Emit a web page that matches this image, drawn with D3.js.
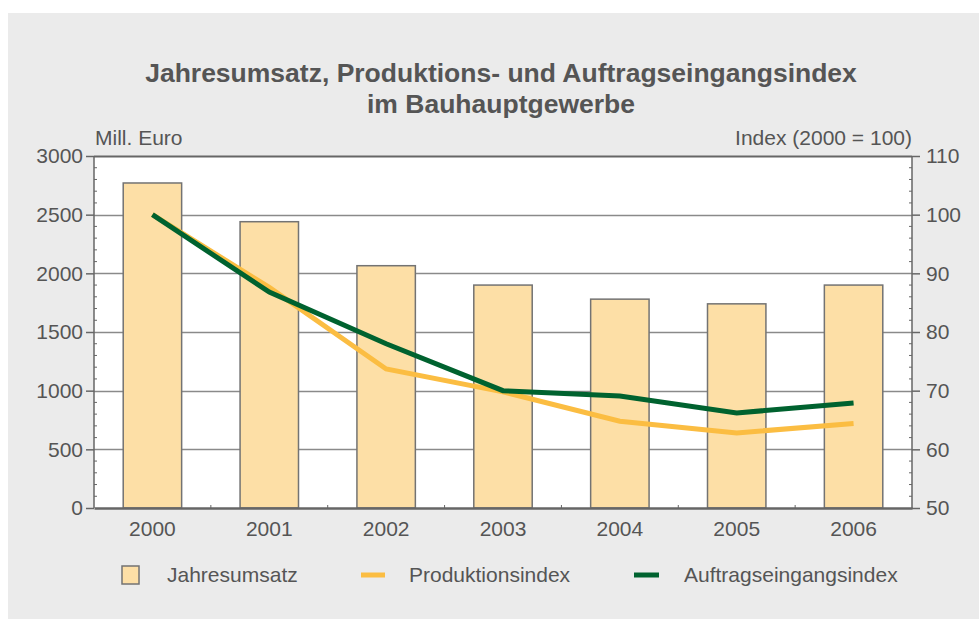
<!DOCTYPE html>
<html>

<head>
    <meta charset='utf-8'>
    <title>Bauhauptgewerbe</title>
    <script type='text/javascript' src='https://cdn.jsdelivr.net/npm/d3@7'></script>
    <style>
        body { margin: 0; background: #fff; }
        text { font-family: 'Liberation Sans', Arial, sans-serif; fill: #555; }
    </style>
</head>

<body>
    <svg width='979' height='619'></svg>
    <script type='text/javascript'>

        const years = ['2000', '2001', '2002', '2003', '2004', '2005', '2006']
        const umsatz = [2770, 2440, 2065, 1900, 1780, 1740, 1900]           // Mill. Euro
        const produktion = [100, 87.6, 73.7, 69.8, 64.8, 62.8, 64.4]         // Index
        const auftrag = [100, 86.8, 78.0, 70.0, 69.1, 66.2, 67.9]            // Index
        const leftTicks = [0, 500, 1000, 1500, 2000, 2500, 3000]
        const rightTicks = [50, 60, 70, 80, 90, 100, 110]

        const svg = d3.select('svg')

        // grauer Hintergrund
        svg.append('rect')
            .attr('x', 8).attr('y', 13)
            .attr('width', 979 - 8).attr('height', 619 - 13)
            .attr('fill', '#ebebeb')

        const pLeft = 94, pRight = 912, pTop = 156, pBottom = 508
        const fs = '21px'

        const x = d3.scaleBand().domain(years).range([pLeft, pRight]).paddingInner(0.5).paddingOuter(0.25)
        const yL = d3.scaleLinear().domain([0, 3000]).range([pBottom, pTop])
        const yR = d3.scaleLinear().domain([50, 110]).range([pBottom, pTop])

        // Titel
        svg.append('text')
            .attr('x', 501).attr('y', 82)
            .attr('text-anchor', 'middle')
            .style('font-size', '26.5px').style('font-weight', 'bold')
            .text('Jahresumsatz, Produktions- und Auftragseingangsindex')
        svg.append('text')
            .attr('x', 501).attr('y', 113)
            .attr('text-anchor', 'middle')
            .style('font-size', '26.5px').style('font-weight', 'bold')
            .text('im Bauhauptgewerbe')

        // Plotfläche
        svg.append('rect')
            .attr('x', pLeft).attr('y', pTop)
            .attr('width', pRight - pLeft).attr('height', pBottom - pTop)
            .attr('fill', '#fff')

        // Gitterlinien
        svg.append('g').selectAll('line')
            .data(leftTicks.slice(1))
            .enter().append('line')
            .attr('x1', pLeft).attr('x2', pRight)
            .attr('y1', d => Math.round(yL(d)) + 0.5).attr('y2', d => Math.round(yL(d)) + 0.5)
            .attr('stroke', d => d === 3000 ? '#666' : '#8a8a8a')
            .attr('stroke-width', d => d === 3000 ? 2 : 1.5)

        // Balken
        svg.append('g').selectAll('rect')
            .data(umsatz)
            .enter().append('rect')
            .attr('x', (d, i) => x(years[i]))
            .attr('y', d => yL(d))
            .attr('width', x.bandwidth())
            .attr('height', d => pBottom - yL(d))
            .attr('fill', '#fddfa6')
            .attr('stroke', '#737373')
            .attr('stroke-width', 1.5)

        // Linien
        const line = d3.line()
            .x((d, i) => x(years[i]) + x.bandwidth() / 2)
            .y(d => yR(d))

        svg.append('path')
            .datum(produktion)
            .attr('d', line)
            .attr('fill', 'none')
            .attr('stroke', '#fbbd42')
            .attr('stroke-width', 5)

        svg.append('path')
            .datum(auftrag)
            .attr('d', line)
            .attr('fill', 'none')
            .attr('stroke', '#00622f')
            .attr('stroke-width', 5)

        // Achsen
        const axisL = svg.append('g')
            .attr('transform', `translate(${pLeft},0)`)
            .call(d3.axisLeft(yL).tickValues(leftTicks).tickSize(8).tickPadding(3).tickFormat(d3.format('d')))
        const axisR = svg.append('g')
            .attr('transform', `translate(${pRight},0)`)
            .call(d3.axisRight(yR).tickValues(rightTicks).tickSize(8).tickPadding(6))
        const axisB = svg.append('g')
            .attr('transform', `translate(0,${pBottom})`)
            .call(d3.axisBottom(x).tickSize(0).tickPadding(13))

        // Nebenstriche
        svg.append('g').selectAll('line')
            .data(d3.range(0, 3000, 100).filter(d => d % 500 !== 0))
            .enter().append('line')
            .attr('x1', pLeft).attr('x2', pLeft + 3)
            .attr('y1', d => yL(d)).attr('y2', d => yL(d))
            .attr('stroke', '#666')
        svg.append('g').selectAll('line')
            .data(d3.range(52, 110, 2).filter(d => d % 10 !== 0))
            .enter().append('line')
            .attr('x1', pRight).attr('x2', pRight - 3)
            .attr('y1', d => yR(d)).attr('y2', d => yR(d))
            .attr('stroke', '#666')
        svg.append('g').selectAll('line')
            .data(years.slice(1))
            .enter().append('line')
            .attr('x1', d => x(d) - x.step() / 4).attr('x2', d => x(d) - x.step() / 4)
            .attr('y1', pBottom).attr('y2', pBottom - 3)
            .attr('stroke', '#666')

        for (const a of [axisL, axisR, axisB]) {
            a.selectAll('.domain').attr('stroke', '#666').attr('stroke-width', 1.5)
            a.selectAll('.tick line').attr('stroke', '#666').attr('stroke-width', 1.5)
            a.selectAll('.tick text').style('font-size', fs).attr('fill', '#555')
            a.attr('font-family', null)
        }
        axisB.selectAll('.domain').attr('stroke-width', 2.5)
        axisL.selectAll('.domain').attr('d', `M0,${pTop}V${pBottom}`)
        axisR.selectAll('.domain').attr('d', `M0,${pTop}V${pBottom}`)

        // Achsentitel
        svg.append('text')
            .attr('x', 95).attr('y', 145)
            .style('font-size', fs)
            .text('Mill. Euro')
        svg.append('text')
            .attr('x', 912).attr('y', 145)
            .attr('text-anchor', 'end')
            .style('font-size', fs)
            .text('Index (2000 = 100)')

        // Legende
        const legend = svg.append('g')
        legend.append('rect')
            .attr('x', 122).attr('y', 566).attr('width', 17).attr('height', 18)
            .attr('fill', '#fddfa6').attr('stroke', '#737373').attr('stroke-width', 1.5)
        legend.append('text').attr('x', 167).attr('y', 582).style('font-size', fs).text('Jahresumsatz')
        legend.append('line')
            .attr('x1', 361).attr('x2', 385).attr('y1', 575).attr('y2', 575)
            .attr('stroke', '#fbbd42').attr('stroke-width', 5)
        legend.append('text').attr('x', 409).attr('y', 582).style('font-size', fs).text('Produktionsindex')
        legend.append('line')
            .attr('x1', 634).attr('x2', 659).attr('y1', 575).attr('y2', 575)
            .attr('stroke', '#00622f').attr('stroke-width', 5)
        legend.append('text').attr('x', 684).attr('y', 582).style('font-size', fs).text('Auftragseingangsindex')
    </script>
</body>

</html>
